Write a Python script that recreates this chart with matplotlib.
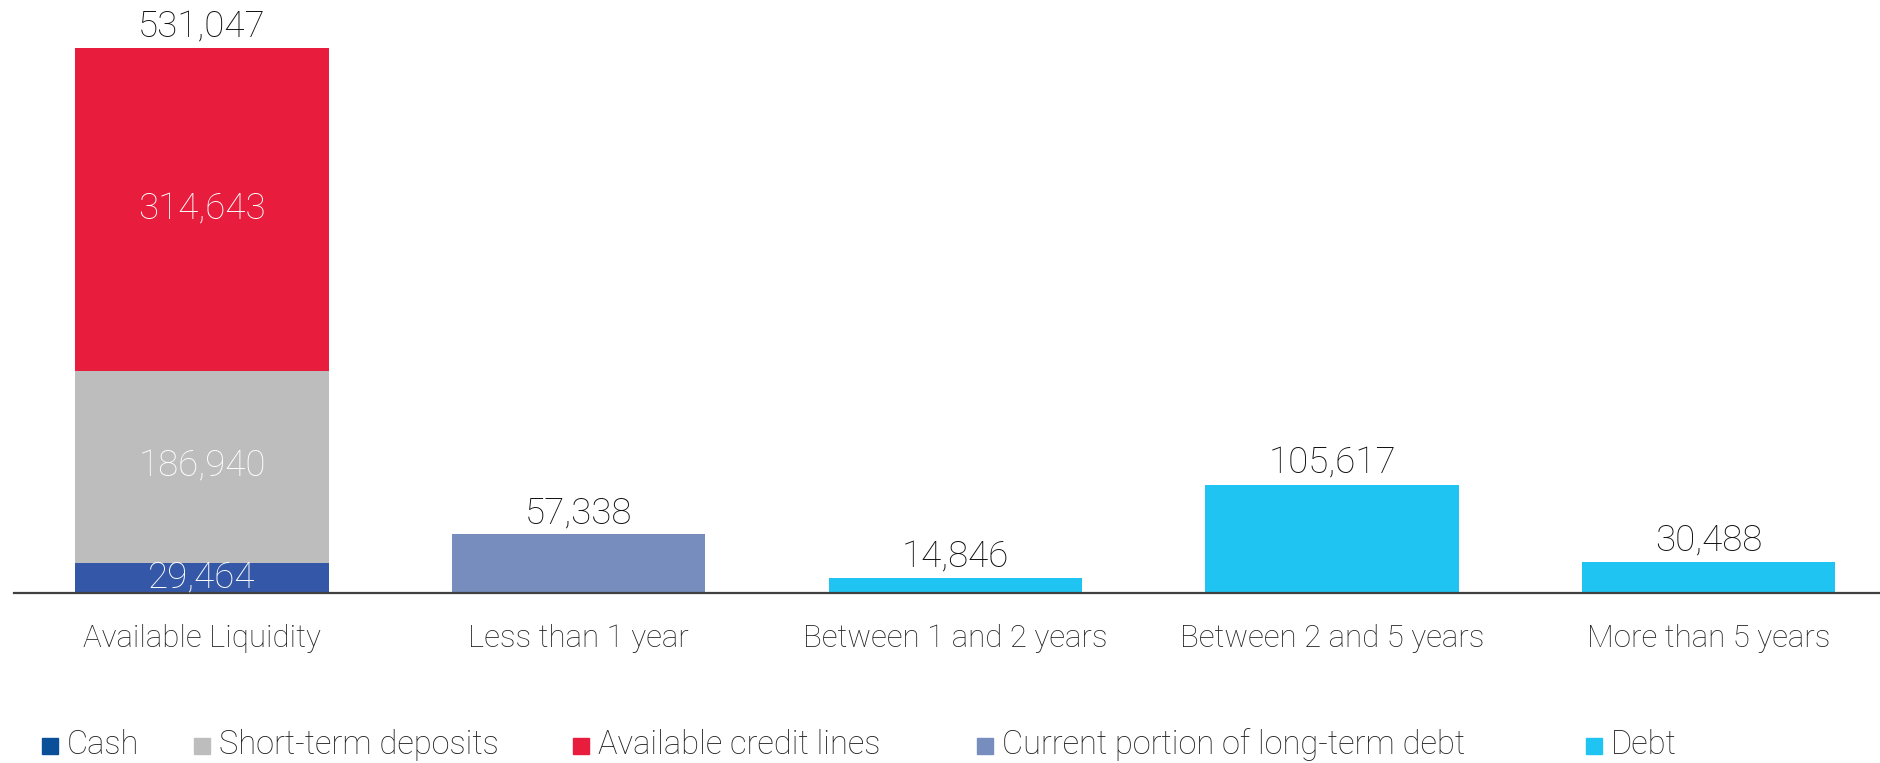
import matplotlib
matplotlib.use("Agg")
import matplotlib.pyplot as plt
from matplotlib.patches import Rectangle

plt.rcParams['font.family'] = ['Roboto', 'DejaVu Sans']

# ---- data ----
categories = ["Available Liquidity", "Less than 1 year", "Between 1 and 2 years",
              "Between 2 and 5 years", "More than 5 years"]
cash = [29464, 0, 0, 0, 0]
short_term_deposits = [186940, 0, 0, 0, 0]
credit_lines = [314643, 0, 0, 0, 0]
current_portion = [0, 57338, 0, 0, 0]
debt = [0, 0, 14846, 105617, 30488]
legend_labels = ["Cash", "Short-term deposits", "Available credit lines",
                 "Current portion of long-term debt", "Debt"]

# ---- style ----
c_cash_bar = "#3457A8"
c_cash_leg = "#0B4F99"
c_dep = "#BDBDBD"
c_cred = "#E81C3C"
c_cur = "#778DBD"
c_debt = "#1FC4F2"

W, H = 1880, 763
fig = plt.figure(figsize=(W / 100, H / 100), dpi=100)
base_px = 593
top_px = 48
ax_left = 13.6
ax_width = 376.7 * 5
ax = fig.add_axes([ax_left / W, (H - base_px) / H, ax_width / W, base_px / H])

x = list(range(len(categories)))
bw = 0.672

totals_liq = [a + b + c for a, b, c in zip(cash, short_term_deposits, credit_lines)]
bottom2 = [a + b for a, b in zip(cash, short_term_deposits)]

ax.bar(x, cash, bw, color=c_cash_bar)
ax.bar(x, short_term_deposits, bw, bottom=cash, color=c_dep)
ax.bar(x, credit_lines, bw, bottom=bottom2, color=c_cred)
ax.bar(x, current_portion, bw, color=c_cur)
ax.bar(x, debt, bw, color=c_debt)

lab_fs = 26.5
# inside labels for the liquidity stack
for vals, bottoms in [(cash, [0] * 5), (short_term_deposits, cash), (credit_lines, bottom2)]:
    for xi, v, b in zip(x, vals, bottoms):
        if v:
            ax.text(xi, b + v / 2, f"{v:,}", ha="center", va="center",
                    color="white", fontsize=lab_fs, fontweight="light")

# labels above bars
tops = [t + c + d for t, c, d in zip(totals_liq, current_portion, debt)]
for xi, t in zip(x, tops):
    if t:
        ax.annotate(f"{t:,}", (xi, t), xytext=(0, 2), textcoords="offset points",
                    ha="center", va="bottom", fontsize=lab_fs, color="#111111",
                    fontweight="light", annotation_clip=False)

ymax = max(tops) * base_px / (base_px - top_px)
ax.set_ylim(0, ymax)
ax.set_xlim(-0.5, len(categories) - 0.5)
for s in ["top", "right", "left"]:
    ax.spines[s].set_visible(False)
ax.spines["bottom"].set_color("#404040")
ax.spines["bottom"].set_linewidth(1.6)
ax.set_yticks([])
ax.set_xticks(x)
ax.set_xticklabels(categories, fontsize=22.5, color="#222222", fontweight="light")
ax.tick_params(axis="x", length=0, pad=22)

# legend (manual placement)
leg_colors = [c_cash_leg, c_dep, c_cred, c_cur, c_debt]
leg_sq_x = [42, 194, 573, 977, 1586]
leg_base = 754
sq = 16
for lab, col, sx in zip(legend_labels, leg_colors, leg_sq_x):
    fig.patches.append(Rectangle((sx / W, (H - leg_base) / H), sq / W, sq / H,
                                 transform=fig.transFigure, color=col))
    fig.text((sx + sq + 9) / W, (H - leg_base) / H, lab, ha="left", va="baseline",
             fontsize=23.5, color="#222222", fontweight="light")

fig.savefig("out.png", dpi=100)
